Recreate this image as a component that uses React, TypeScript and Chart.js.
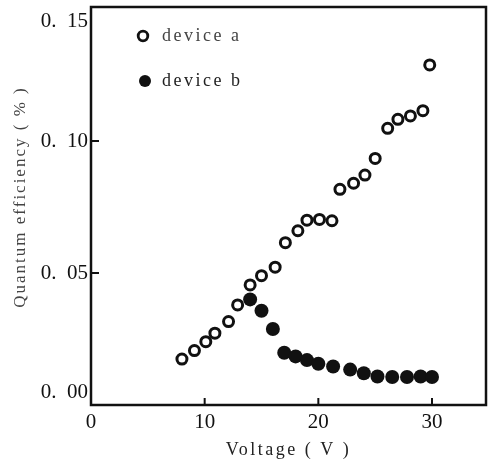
import React, { useEffect, useRef } from "react";
import { Chart, registerables } from "chart.js";

Chart.register(...registerables);

const deviceAVoltage = [8, 9.1, 10.1, 10.9, 12.1, 12.9, 14, 15, 16.2, 17.1, 18.2, 19, 20.1, 21.2, 21.9, 23.1, 24.1, 25, 26.1, 27, 28.1, 29.2, 29.8];
const deviceAEfficiency = [0.0174, 0.0206, 0.024, 0.0272, 0.0316, 0.0379, 0.0455, 0.049, 0.0522, 0.0615, 0.066, 0.07, 0.0703, 0.0698, 0.0817, 0.084, 0.0871, 0.0934, 0.1048, 0.1082, 0.1095, 0.1115, 0.1288];

const deviceBVoltage = [14, 15, 16, 17, 18, 19, 20, 21.3, 22.8, 24, 25.2, 26.5, 27.8, 29, 30];
const deviceBEfficiency = [0.04, 0.0357, 0.0288, 0.0198, 0.0184, 0.017, 0.0156, 0.0146, 0.0134, 0.012, 0.0108, 0.0106, 0.0106, 0.0108, 0.0106];

const xTickValues = [0, 10, 20, 30];
const yTickValues = [0, 0.05, 0.1, 0.15];
const xInnerTicks = [10, 20, 30];
const yInnerTicks = [0.05, 0.1];

const legendLabels = ["device a", "device b"];
const xTitle = "Voltage ( V )";
const yTitle = "Quantum efficiency ( % )";

const INK = "#111";
const SERIF = "'Liberation Serif', 'DejaVu Serif', serif";

const framePlugin = {
  id: "frameAndTicks",
  afterDraw(chart: any) {
    const { ctx, chartArea } = chart;
    const xs = chart.scales.x;
    const ys = chart.scales.y;
    ctx.save();
    ctx.strokeStyle = INK;
    ctx.lineWidth = 2.5;
    ctx.strokeRect(chartArea.left, chartArea.top - 2, chartArea.right - chartArea.left, chartArea.bottom - chartArea.top + 2);
    ctx.lineWidth = 2;
    xInnerTicks.forEach((v) => {
      const px = xs.getPixelForValue(v);
      ctx.beginPath();
      ctx.moveTo(px, chartArea.bottom);
      ctx.lineTo(px, chartArea.bottom - 7);
      ctx.stroke();
    });
    yInnerTicks.forEach((v) => {
      const py = ys.getPixelForValue(v);
      ctx.beginPath();
      ctx.moveTo(chartArea.left, py);
      ctx.lineTo(chartArea.left + 8, py);
      ctx.stroke();
    });

    // legend
    const lx = chartArea.left + 52;
    const items = [
      { y: chartArea.top + 27, filled: false, color: "#444" },
      { y: chartArea.top + 72, filled: true, color: "#222" },
    ];
    ctx.font = `18px ${SERIF}`;
    (ctx as any).letterSpacing = "2.5px";
    ctx.textBaseline = "middle";
    ctx.textAlign = "left";
    items.forEach((it, i) => {
      ctx.beginPath();
      ctx.arc(lx + (it.filled ? 2 : 0), it.y, it.filled ? 6 : 4.8, 0, Math.PI * 2);
      if (it.filled) {
        ctx.fillStyle = INK;
        ctx.fill();
      } else {
        ctx.fillStyle = "#fff";
        ctx.fill();
        ctx.lineWidth = 2.8;
        ctx.strokeStyle = INK;
        ctx.stroke();
      }
      ctx.fillStyle = it.color;
      ctx.fillText(legendLabels[i], lx + 19, it.y);
    });

    // axis titles
    ctx.textAlign = "center";
    ctx.fillStyle = "#222";
    ctx.font = `18px ${SERIF}`;
    (ctx as any).letterSpacing = "2.5px";
    ctx.fillText(xTitle, (chartArea.left + chartArea.right) / 2, 450);

    ctx.save();
    ctx.translate(21, 197);
    ctx.rotate(-Math.PI / 2);
    ctx.fillStyle = "#444";
    ctx.font = `17px ${SERIF}`;
    (ctx as any).letterSpacing = "2px";
    ctx.fillText(yTitle, 0, 0);
    ctx.restore();

    ctx.restore();
  },
};

const formatY = (v: number) => {
  const s = Number(v).toFixed(2).replace(".", ".  ");
  if (v >= 0.15) return ["", s];
  if (v <= 0) return [s, ""];
  return s;
};

export default function App() {
  const canvasRef = useRef<HTMLCanvasElement | null>(null);

  useEffect(() => {
    if (!canvasRef.current) return;
    const chart = new Chart(canvasRef.current, {
      type: "scatter",
      data: {
        datasets: [
          {
            label: legendLabels[0],
            data: deviceAVoltage.map((x, i) => ({ x, y: deviceAEfficiency[i] })),
            pointStyle: "circle",
            pointRadius: 5,
            pointBorderWidth: 3,
            pointBackgroundColor: "#fff",
            pointBorderColor: INK,
            order: 1,
          },
          {
            label: legendLabels[1],
            data: deviceBVoltage.map((x, i) => ({ x, y: deviceBEfficiency[i] })),
            pointStyle: "circle",
            pointRadius: 7,
            pointBorderWidth: 0,
            pointBackgroundColor: INK,
            pointBorderColor: INK,
            order: 0,
          },
        ],
      },
      plugins: [framePlugin],
      options: {
        animation: false,
        responsive: false,
        maintainAspectRatio: false,
        layout: { autoPadding: false, padding: { left: 0, right: 3, top: 9, bottom: 0 } },
        plugins: {
          legend: { display: false },
          tooltip: { enabled: false },
        },
        scales: {
          x: {
            type: "linear",
            min: 0,
            max: 34.75,
            afterBuildTicks: (s: any) => {
              s.ticks = xTickValues.map((v) => ({ value: v }));
            },
            afterFit: (s: any) => {
              s.height = 59;
              s.paddingLeft = 0;
              s.paddingRight = 0;
            },
            grid: { display: false, drawTicks: false },
            border: { display: false },
            ticks: {
              padding: 5,
              color: INK,
              font: { family: SERIF, size: 21 },
              callback: (v: any) => String(v),
            },
            title: { display: false },
          },
          y: {
            type: "linear",
            min: 0,
            max: 0.15,
            afterBuildTicks: (s: any) => {
              s.ticks = yTickValues.map((v) => ({ value: v }));
            },
            afterFit: (s: any) => {
              s.width = 91;
              s.paddingTop = 0;
              s.paddingBottom = 0;
            },
            grid: { display: false, drawTicks: false },
            border: { display: false },
            ticks: {
              padding: 3,
              color: INK,
              font: { family: SERIF, size: 21 },
              callback: (v: any) => formatY(Number(v)),
            },
            title: { display: false },
          },
        },
      },
    });
    return () => chart.destroy();
  }, []);

  return (
    <div style={{ position: "fixed", left: 0, top: 0, width: 489, height: 464, background: "#fff" }}>
      <canvas ref={canvasRef} width={489} height={464} style={{ width: 489, height: 464 }} />
    </div>
  );
}
